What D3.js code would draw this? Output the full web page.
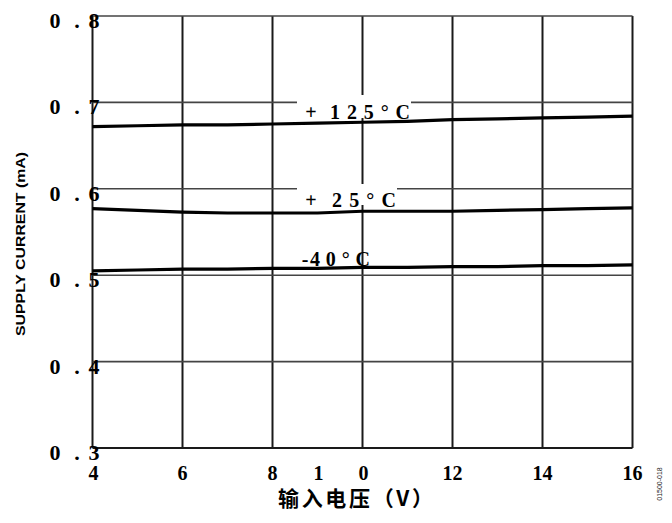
<!DOCTYPE html>
<html>
<head>
<meta charset="utf-8">
<script src="https://cdn.jsdelivr.net/npm/d3@7"></script>
<style>
  html, body { margin: 0; padding: 0; background: #fff; }
  svg { display: block; }
</style>
</head>
<body>
<svg id="chart" width="672" height="523"></svg>
<script>
// Supply voltage (V) sample points and supply current (mA) per temperature
const voltage = [4, 5, 6, 7, 8, 9, 10, 11, 12, 13, 14, 15, 16];
const curHot  = [0.672, 0.673, 0.674, 0.674, 0.675, 0.676, 0.677, 0.678, 0.680, 0.681, 0.682, 0.683, 0.684];
const curRoom = [0.577, 0.575, 0.573, 0.572, 0.572, 0.572, 0.574, 0.574, 0.574, 0.575, 0.576, 0.577, 0.578];
const curCold = [0.505, 0.506, 0.507, 0.507, 0.508, 0.508, 0.509, 0.509, 0.510, 0.510, 0.511, 0.511, 0.512];
const labelSigns = ["+", "+", "-"];
const labelTemps = ["125°C", "25°C", "40°C"];
const xTicks = [4, 6, 8, 10, 12, 14, 16];
const yTicks = [0.3, 0.4, 0.5, 0.6, 0.7, 0.8];
const xTitle = "输入电压（V）";
const yTitle = "SUPPLY CURRENT (mA)";
const figCode = "01500-018";

const svg = d3.select("#chart");
const x = d3.scaleLinear().domain([4, 16]).range([92.5, 632.5]);
const y = d3.scaleLinear().domain([0.3, 0.8]).range([448, 16]);
const serif = "'Liberation Serif', 'DejaVu Serif', serif";

// grid: vertical lines
svg.append("g").selectAll("line").data(xTicks).join("line")
  .attr("x1", d => x(d)).attr("x2", d => x(d))
  .attr("y1", y(0.8)).attr("y2", y(0.3))
  .attr("stroke", "#1a1a1a").attr("stroke-width", 2);

// grid: horizontal lines
svg.append("g").selectAll("line").data(yTicks).join("line")
  .attr("x1", x(4)).attr("x2", x(16))
  .attr("y1", d => y(d)).attr("y2", d => y(d))
  .attr("stroke", d => d === 0.3 ? "#1a1a1a" : "#444")
  .attr("stroke-width", d => d === 0.3 ? 2 : 1.6);

// curve labels: sign, then the temperature spread over a fixed width
const series = [
  { vals: curHot,  sign: labelSigns[0], temp: labelTemps[0], sx: 311, tx: 330, ly: 119, w: 80, box: [95, 118] },
  { vals: curRoom, sign: labelSigns[1], temp: labelTemps[1], sx: 311, tx: 332, ly: 207, w: 64, box: [184, 205] },
  { vals: curCold, sign: labelSigns[2], temp: labelTemps[2], sx: 305, tx: 310, ly: 266, w: 60, box: null }
];

// white patches break the grid behind the upper two labels
series.forEach(s => {
  if (s.box) {
    svg.append("rect")
      .attr("x", 297).attr("y", s.box[0])
      .attr("width", s.tx + s.w - 297 + 1).attr("height", s.box[1] - s.box[0])
      .attr("fill", "#fff");
  }
});

const line = d3.line().x((d, i) => x(voltage[i])).y(d => y(d));
svg.append("g").selectAll("path").data(series).join("path")
  .attr("d", d => line(d.vals))
  .attr("fill", "none").attr("stroke", "#000").attr("stroke-width", 3.2);

const lab = svg.append("g").selectAll("g").data(series).join("g")
  .attr("font-family", serif).attr("font-weight", "bold").attr("font-size", 20);
lab.append("text")
  .attr("x", d => d.sx).attr("y", d => d.ly).attr("text-anchor", "middle")
  .text(d => d.sign);
lab.append("text")
  .attr("x", d => d.tx).attr("y", d => d.ly)
  .attr("textLength", d => d.w).attr("lengthAdjust", "spacing")
  .text(d => d.temp);

// y tick labels "0 . 8" with the last digit over the axis
const yLab = svg.append("g").selectAll("text").data(yTicks).join("text")
  .attr("font-family", serif).attr("font-weight", "bold").attr("font-size", 22)
  .attr("text-anchor", "middle")
  .attr("y", d => y(d) + 12);
yLab.append("tspan").attr("x", 55).text(d => d.toFixed(1)[0]);
yLab.append("tspan").attr("x", 77).text(".");
yLab.append("tspan").attr("x", 94).text(d => d.toFixed(1)[2]);

// x tick labels; "10" is printed with its digits pulled apart
const xLab = svg.append("g").selectAll("text").data(xTicks).join("text")
  .attr("font-family", serif).attr("font-weight", "bold").attr("font-size", 20)
  .attr("text-anchor", "middle")
  .attr("y", 480);
xLab.each(function(d) {
  const t = d3.select(this);
  const s = String(d);
  if (d === 10) {
    t.append("tspan").attr("x", x(d) - 44).text(s[0]);
    t.append("tspan").attr("x", x(d) + 1).text(s[1]);
  } else {
    t.append("tspan").attr("x", x(d) + (d === 4 ? 1 : 0)).text(s);
  }
});

// axis titles
svg.append("text")
  .attr("x", 278).attr("y", 506)
  .attr("textLength", 155).attr("lengthAdjust", "spacing")
  .attr("font-family", "'Noto Sans CJK SC', sans-serif")
  .attr("font-weight", "bold").attr("font-size", 21)
  .text(xTitle);

svg.append("text")
  .attr("transform", "translate(25,244) rotate(-90)")
  .attr("text-anchor", "middle")
  .attr("textLength", 184).attr("lengthAdjust", "spacingAndGlyphs")
  .attr("font-family", "'Liberation Sans', Arial, sans-serif")
  .attr("font-weight", "bold").attr("font-size", 12)
  .text(yTitle);

svg.append("text")
  .attr("transform", "translate(662,484) rotate(-90)")
  .attr("text-anchor", "middle")
  .attr("font-family", "'Liberation Sans', Arial, sans-serif")
  .attr("font-size", 7).attr("fill", "#222")
  .text(figCode);
</script>
</body>
</html>
